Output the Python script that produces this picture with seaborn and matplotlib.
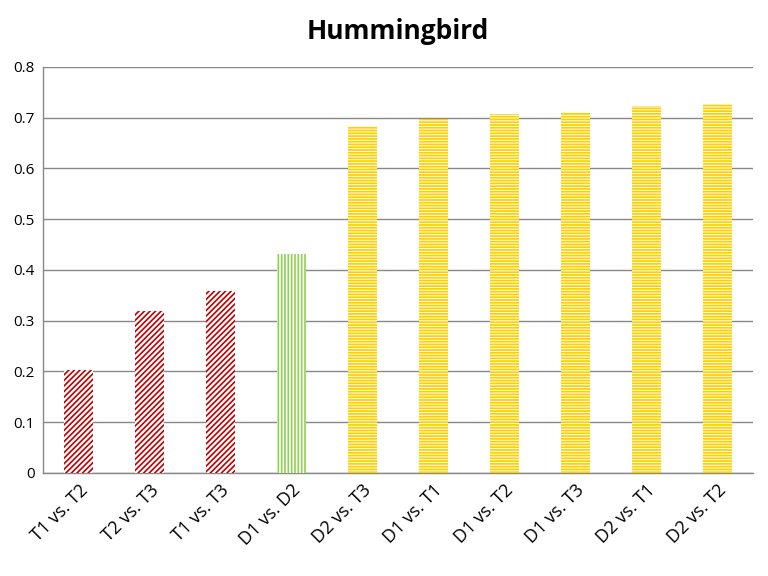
import matplotlib
matplotlib.use("Agg")
import matplotlib.pyplot as plt
import seaborn as sns
import pandas as pd

# values
comparisons = ["T1 vs. T2", "T2 vs. T3", "T1 vs. T3", "D1 vs. D2", "D2 vs. T3",
               "D1 vs. T1", "D1 vs. T2", "D1 vs. T3", "D2 vs. T1", "D2 vs. T2"]
scores = [0.203, 0.319, 0.359, 0.432, 0.684, 0.698, 0.707, 0.711, 0.723, 0.727]
groups = ["TT", "TT", "TT", "DD", "DT", "DT", "DT", "DT", "DT", "DT"]

group_colors = {"TT": "#C00000", "DD": "#92D050", "DT": "#FFD000"}
group_hatches = {"TT": "//////", "DD": "|||||", "DT": "------"}

df = pd.DataFrame({"comparison": comparisons, "score": scores, "group": groups})

sns.set_style("white")
plt.rcParams["font.family"] = ["Open Sans", "DejaVu Sans"]
plt.rcParams["hatch.linewidth"] = 1.2

fig, ax = plt.subplots(figsize=(7.68, 5.76), dpi=100)
fig.subplots_adjust(left=0.056, right=0.98, top=0.884, bottom=0.179)

sns.barplot(data=df, x="comparison", y="score", hue="group", dodge=False,
            palette=group_colors, width=0.41, legend=False, ax=ax, zorder=3)

# hatching in the group colour; the yellow bars are mostly fill with thin white gaps
for container, grp in zip(ax.containers, ["TT", "DD", "DT"]):
    for bar in container:
        if grp == "DT":
            bar.set_facecolor(group_colors[grp])
            bar.set_edgecolor("white")
            if hasattr(bar, "set_hatch_linewidth"):
                bar.set_hatch_linewidth(0.7)
        else:
            bar.set_facecolor("white")
            bar.set_edgecolor(group_colors[grp])
        bar.set_hatch(group_hatches[grp])
        bar.set_linewidth(0)

ax.set_ylim(0, 0.8)
ax.set_xlim(-0.5, 9.5)
ax.set_yticks([i / 10 for i in range(9)])
ax.set_yticklabels(["0"] + [f"{i / 10:.1f}" for i in range(1, 9)], fontsize=11, color="black")
ax.yaxis.grid(True, color="#888888", linewidth=1, zorder=0)
ax.set_axisbelow(True)
ax.tick_params(axis="both", length=0, pad=6)
plt.setp(ax.get_xticklabels(), rotation=45, ha="right", rotation_mode="anchor",
         fontsize=13, color="black")

for side in ["top", "right"]:
    ax.spines[side].set_visible(False)
for side in ["left", "bottom"]:
    ax.spines[side].set_color("#888888")
    ax.spines[side].set_linewidth(1)

ax.set_xlabel("")
ax.set_ylabel("")
ax.set_title("Hummingbird", fontsize=19, fontweight="bold", color="black", pad=20)

fig.savefig("out.png", dpi=100)
